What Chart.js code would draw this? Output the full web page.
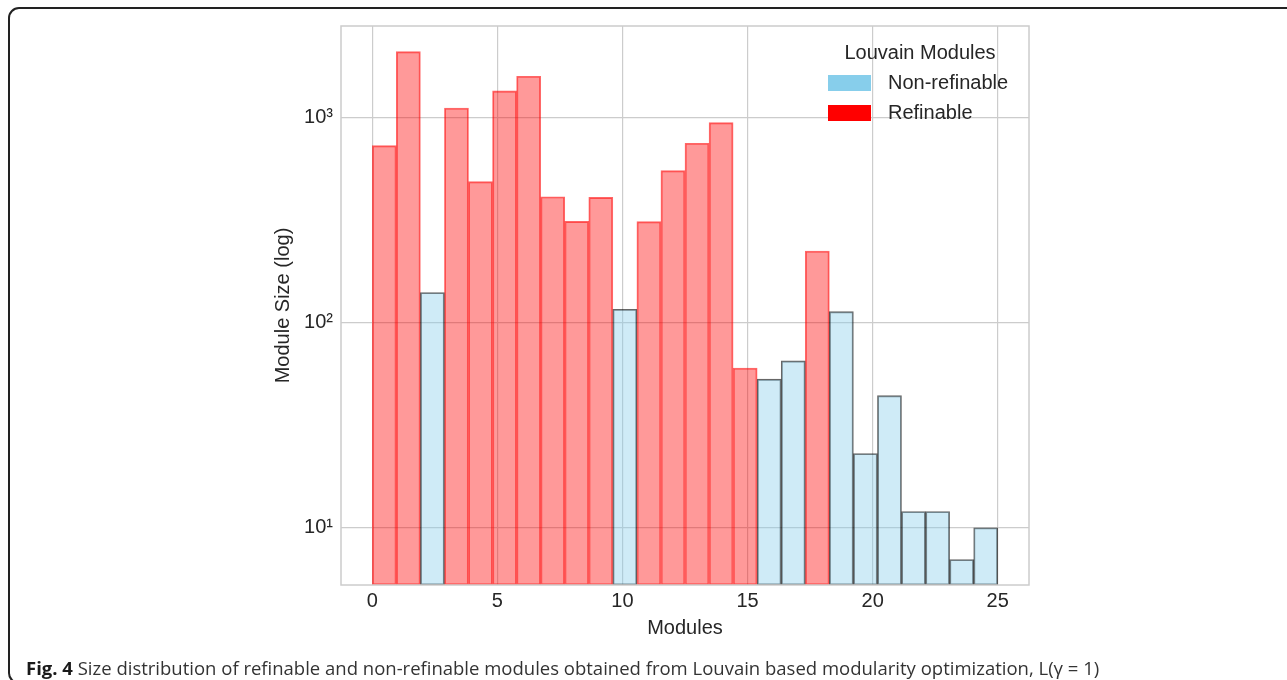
<!DOCTYPE html>
<html>
<head>
<meta charset="utf-8">
<script src="https://cdn.jsdelivr.net/npm/chart.js@4.4.0/dist/chart.umd.min.js"></script>
<style>
  html, body { margin: 0; padding: 0; background: #fff; }
  #wrap { position: absolute; left: 0; top: 0; width: 1287px; height: 680px; overflow: hidden; }
  #frame { position: absolute; left: 8px; top: 7px; width: 1320px; height: 673px;
           border: 2px solid #222; border-radius: 11px; }
  #box { position: absolute; left: 0; top: 0; width: 1287px; height: 680px; }
  #caption { position: absolute; left: 26px; top: 655px; font-family: 'Open Sans', 'Noto Sans', sans-serif;
             font-size: 18.5px; color: #333; white-space: nowrap; }
  #caption b { color: #1a1a1a; }
</style>
</head>
<body>
<div id="wrap">
  <div id="frame"></div>
  <div id="box"><canvas id="histChart"></canvas></div>
  <div id="caption"><b>Fig. 4</b> Size distribution of refinable and non-refinable modules obtained from Louvain based modularity optimization, L(γ = 1)</div>
</div>
<script>
// histogram bins: 26 bins over module index 0..25
const binStart = 0;
const binEnd = 25;
const moduleSizes = [728, 2090, 140, 1110, 486, 1345, 1585, 410, 311, 407, 116, 310, 550, 747, 942, 60, 53, 65, 223, 113, 23, 44, 12, 12, 7, 10];
const isRefinable = [1, 1, 0, 1, 1, 1, 1, 1, 1, 1, 0, 1, 1, 1, 1, 1, 0, 0, 1, 0, 0, 0, 0, 0, 0, 0];
const xTicks = [0, 5, 10, 15, 20, 25];
const yTicks = [10, 100, 1000];
const yTickLabels = ['10¹', '10²', '10³'];
const seriesNames = ['Non-refinable', 'Refinable'];

const binW = (binEnd - binStart) / moduleSizes.length;
const refinablePts = [];
const nonRefinablePts = [];
moduleSizes.forEach((v, i) => {
    const pt = { x: binStart + (i + 0.5) * binW, y: v };
    if (isRefinable[i]) refinablePts.push(pt); else nonRefinablePts.push(pt);
});

Chart.defaults.font.family = "'Liberation Sans', Arial, sans-serif";
Chart.defaults.color = '#262626';

const frameAndLegend = {
    id: 'frameAndLegend',
    afterDatasetsDraw(chart) {
        const { ctx, chartArea: a } = chart;
        ctx.save();
        ctx.strokeStyle = '#cccccc';
        ctx.lineWidth = 1.5;
        ctx.strokeRect(a.left, a.top, a.right - a.left, a.bottom - a.top);

        // legend inside the axes, top right
        const lx = a.right - 201;
        ctx.font = "20px 'Liberation Sans', Arial, sans-serif";
        ctx.fillStyle = '#262626';
        ctx.textBaseline = 'middle';
        ctx.textAlign = 'center';
        ctx.fillText('Louvain Modules', lx + 92, a.top + 27);
        const cols = ['rgb(135,206,235)', 'rgb(255,0,0)'];
        seriesNames.forEach((name, k) => {
            const y = a.top + 49 + k * 30;
            ctx.fillStyle = cols[k];
            ctx.fillRect(lx, y, 43, 16);
            ctx.fillStyle = '#262626';
            ctx.textAlign = 'left';
            ctx.fillText(name, lx + 60, y + 8);
        });
        ctx.restore();
    }
};

new Chart(document.getElementById('histChart').getContext('2d'), {
    type: 'bar',
    data: {
        datasets: [{
            label: seriesNames[0],
            data: nonRefinablePts,
            backgroundColor: 'rgba(135, 206, 235, 0.4)',
            borderColor: 'rgba(0, 0, 0, 0.6)',
            borderWidth: 1.2
        }, {
            label: seriesNames[1],
            data: refinablePts,
            backgroundColor: 'rgba(255, 0, 0, 0.4)',
            borderColor: 'rgba(255, 0, 0, 0.6)',
            borderWidth: 1.2
        }]
    },
    options: {
        responsive: true,
        maintainAspectRatio: false,
        animation: false,
        datasets: { bar: { grouped: false, barPercentage: 1, categoryPercentage: 1, borderSkipped: false } },
        layout: { padding: { left: 271, top: 26, right: 258, bottom: 40 } },
        plugins: { legend: { display: false }, tooltip: { enabled: false } },
        scales: {
            x: {
                type: 'linear',
                offset: false,
                min: -1.25,
                max: 26.25,
                afterBuildTicks: s => { s.ticks = xTicks.map(v => ({ value: v })); },
                afterFit: s => { s.height = 55; },
                grid: { color: '#cccccc', lineWidth: 1.2, drawTicks: false, offset: false },
                border: { display: false },
                ticks: { padding: 4, font: { size: 20 }, color: '#262626' },
                title: { display: true, text: 'Modules', font: { size: 20 }, padding: 0, color: '#262626' }
            },
            y: {
                type: 'logarithmic',
                min: 5.26,
                max: 2786,
                afterBuildTicks: s => { s.ticks = yTicks.map(v => ({ value: v })); },
                afterFit: s => { s.width = 70; },
                grid: { color: '#cccccc', lineWidth: 1.2, drawTicks: false },
                border: { display: false },
                ticks: {
                    padding: 8,
                    font: { size: 20 },
                    color: '#262626',
                    callback: function(value) {
                        const i = yTicks.indexOf(value);
                        return i >= 0 ? yTickLabels[i] : '';
                    }
                },
                title: { display: true, text: 'Module Size (log)', font: { size: 20 }, padding: 0, color: '#262626' }
            }
        }
    },
    plugins: [frameAndLegend]
});
</script>
</body>
</html>
